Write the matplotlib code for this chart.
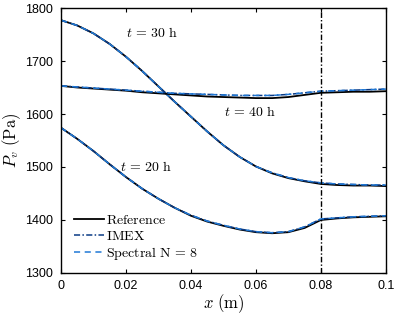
import matplotlib
matplotlib.use('Agg')
import matplotlib.pyplot as plt
import numpy as np

plt.rcParams['mathtext.fontset'] = 'cm'
plt.rcParams['font.family'] = ['Liberation Sans', 'DejaVu Sans']

# data
x = [0, 0.005, 0.01, 0.015, 0.02, 0.025, 0.03, 0.035, 0.04, 0.045, 0.05,
     0.055, 0.06, 0.065, 0.07, 0.075, 0.08, 0.085, 0.09, 0.095, 0.1]

ref_20 = [1574, 1553, 1530, 1505, 1481, 1459, 1440, 1423, 1408, 1397, 1389,
          1382, 1377, 1375, 1377, 1385, 1400, 1403, 1405, 1406, 1407]
num_20 = [1574, 1553, 1530, 1505, 1481, 1459, 1440, 1423, 1409, 1398, 1390,
          1383, 1378, 1376, 1378, 1387, 1402, 1404, 1406, 1407, 1408]

ref_30 = [1777, 1767, 1752, 1732, 1708, 1681, 1652, 1623, 1595, 1567, 1541,
          1519, 1501, 1488, 1479, 1473, 1468, 1466, 1465, 1465, 1464]
num_30 = [1777, 1767, 1752, 1732, 1708, 1681, 1652, 1623, 1595, 1567, 1541,
          1519, 1501, 1489, 1480, 1474, 1470, 1468, 1467, 1466, 1466]

ref_40 = [1653, 1650, 1648, 1646, 1644, 1641, 1639, 1637, 1635, 1633, 1632,
          1631, 1630, 1630, 1632, 1636, 1640, 1641, 1642, 1642, 1643]
num_40 = [1653, 1651, 1649, 1647, 1645, 1643, 1641, 1639, 1638, 1637, 1636,
          1635, 1635, 1635, 1637, 1640, 1643, 1644, 1645, 1646, 1647]

interface_x = 0.08

c_imex = '#0a3a85'
c_spec = '#1f78d6'

fig = plt.figure(figsize=(3.99, 3.14), dpi=100)
ax = fig.add_axes([0.153, 0.1306, 0.814, 0.8439])

first = True
for r, n in [(ref_20, num_20), (ref_30, num_30), (ref_40, num_40)]:
    ax.plot(x, r, color='black', lw=1.3, label=r'$\mathrm{Reference}$' if first else None)
    ax.plot(x, n, color=c_imex, lw=1.1, ls=(0, (4, 1.5, 1, 1.5)),
            label=r'$\mathrm{IMEX}$' if first else None)
    ax.plot(x, n, color=c_spec, lw=1.1, ls=(0, (4, 3)),
            label=r'$\mathrm{Spectral\ N}\,=\,8$' if first else None)
    first = False

ax.axvline(interface_x, color='black', lw=1.0, ls=(0, (4, 1.5, 1, 1.5)))

ax.text(0.028, 1753, r'$t\,=\,30\ \mathrm{h}$', ha='center', va='center', fontsize=10)
ax.text(0.0582, 1604, r'$t\,=\,40\ \mathrm{h}$', ha='center', va='center', fontsize=10)
ax.text(0.0262, 1500, r'$t\,=\,20\ \mathrm{h}$', ha='center', va='center', fontsize=10)

ax.set_xlim(0, 0.1)
ax.set_ylim(1300, 1800)
ax.set_xticks([0, 0.02, 0.04, 0.06, 0.08, 0.1])
ax.set_xticklabels(['0', '0.02', '0.04', '0.06', '0.08', '0.1'])
ax.set_yticks([1300, 1400, 1500, 1600, 1700, 1800])
ax.tick_params(direction='in', top=True, right=True, labelsize=9, length=3, width=0.8)
ax.tick_params(axis='x', pad=5)
ax.tick_params(axis='y', pad=6)
for s in ax.spines.values():
    s.set_linewidth(1.0)

ax.set_xlabel(r'$x\ \mathrm{(m)}$', fontsize=12, labelpad=0)
ax.set_ylabel(r'$P_v\ \mathrm{(Pa)}$', fontsize=12, labelpad=1)

ax.legend(loc='lower left', frameon=False, fontsize=10, handlelength=2.16,
          handletextpad=0.15, labelspacing=0.15, borderaxespad=0.3,
          bbox_to_anchor=(0.01, 0.005))

fig.savefig('out.png', dpi=100)
